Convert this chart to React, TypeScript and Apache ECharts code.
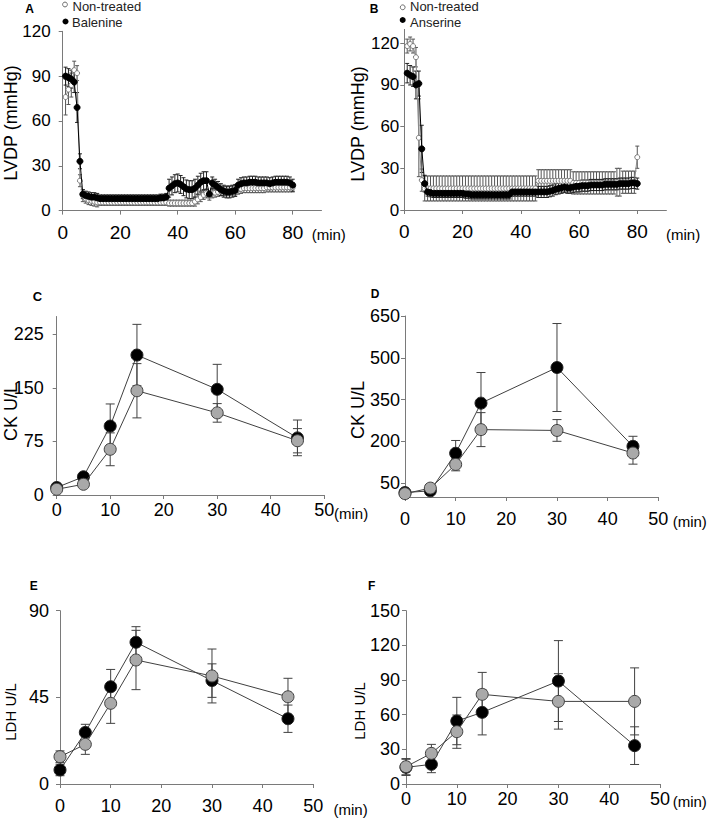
import React, { useEffect, useRef } from 'react';
import * as echarts from 'echarts';

// ---------- DATA ----------
// Panels A & B: LVDP sampled every minute (1..80 min)
const minutesAB = Array.from({ length: 80 }, (_, i) => i + 1);

const lvdpA_nonTreated = [
  76, 81, 84, 94, 92, 20, 10, 8, 7, 6.5,
  6, 5.5, 5.5, 5.5, 5.5, 5.5, 5.5, 5.5, 5.5, 5.5,
  5.5, 5.5, 5.5, 5.5, 5.5, 5.5, 5.5, 5.5, 5.5, 5.5,
  5.5, 5.5, 5.5, 5.5, 5.5, 5.5, 5, 5, 5, 5,
  5, 5, 5, 5, 5, 6, 7.5, 9, 10.5, 11.5,
  10, 11.5, 12, 12.5, 13, 13, 13, 13, 13.5, 13.5,
  14, 14.5, 15, 15, 15, 15, 15, 15, 15, 15,
  15.5, 15.5, 15.5, 15.5, 15.5, 15.5, 15.5, 15.5, 15.5, 15.5,
];
const lvdpA_nonTreatedErr = [
  12, 10, 8, 6, 5, 4, 4, 3, 3, 3,
  3, 3, 2, 2, 2, 2, 2, 2, 2, 2,
  2, 2, 2, 2, 2, 2, 2, 2, 2, 2,
  2, 2, 2, 2, 2, 2, 2, 2, 2, 2,
  2, 2, 2, 2, 2, 3, 3, 3, 3, 3,
  3, 3, 3, 3, 3, 3, 3, 3, 3, 3,
  3, 3, 3, 3, 3, 3, 3, 3, 3, 3,
  3, 3, 3, 3, 3, 3, 3, 3, 3, 3,
];
const lvdpA_balenine = [
  90, 89, 88, 86, 69, 33, 11, 10, 9.5, 9,
  9, 8.5, 8, 8, 8, 8, 8, 8, 8, 8,
  8, 8, 8, 8, 8, 8, 8, 8, 8, 8,
  8, 8, 8, 8.5, 8.5, 9, 15, 16.5, 18, 18.5,
  17.5, 16, 14.5, 14, 14, 15, 17, 19, 20, 20,
  11, 18.5, 17, 15.5, 14, 13, 12.5, 12.5, 13, 13.5,
  17, 18, 18.5, 18.5, 19, 19, 19, 18.5, 18.5, 18.5,
  18.5, 18, 18.5, 19, 19, 19, 19, 19, 18.5, 17,
];
const lvdpA_balenineErr = [
  6, 6, 6, 7, 10, 5, 3, 3, 3, 3,
  3, 3, 2.5, 2.5, 2.5, 2.5, 2.5, 2.5, 2.5, 2.5,
  2.5, 2.5, 2.5, 2.5, 2.5, 2.5, 2.5, 2.5, 2.5, 2.5,
  2.5, 2.5, 2.5, 2.5, 2.5, 2.5, 6, 6, 6, 6,
  6, 6, 6, 6, 6, 6, 6, 6, 6, 6,
  2, 4, 4, 4, 4, 4, 4, 4, 4, 4,
  4, 4, 4, 4, 4, 4, 4, 4, 4, 4,
  4, 4, 4, 4, 4, 4, 4, 4, 4, 4,
];

const lvdpB_nonTreated = [
  118, 119.5, 118, 110, 52, 21.5, 15.5, 15.5, 15.5, 15.5,
  15.5, 15.5, 15.5, 15.5, 15.5, 15.5, 15.5, 15.5, 15.5, 15.5,
  15.5, 15.5, 15.5, 15.5, 15.5, 15.5, 15.5, 15.5, 15.5, 15.5,
  15.5, 15.5, 15.5, 15.5, 15.5, 15.5, 15.5, 15.5, 15.5, 15.5,
  15.5, 15.5, 15.5, 15.5, 15.5, 21, 21, 21, 21, 21,
  21, 21, 21, 21, 21, 21, 21, 19.5, 19.5, 19.5,
  19.5, 19.5, 19.5, 19.5, 19.5, 19.5, 19.5, 19.5, 19.5, 19.5,
  19.5, 19.5, 20, 20, 20, 20, 20, 20, 20, 38,
];
const lvdpB_nonTreatedErr = [
  5, 5, 5, 7, 28, 8, 9, 9, 9, 9,
  9, 9, 9, 9, 9, 9, 9, 9, 9, 9,
  9, 9, 9, 9, 9, 9, 9, 9, 9, 9,
  9, 9, 9, 9, 9, 9, 9, 9, 9, 9,
  9, 9, 9, 9, 9, 8, 8, 8, 8, 8,
  8, 8, 8, 8, 8, 8, 8, 8, 8, 8,
  8, 8, 8, 8, 8, 8, 8, 8, 8, 8,
  8, 8, 10, 10, 8, 8, 8, 8, 8, 8,
];
const lvdpB_anserine = [
  98.5, 97, 96, 90, 91, 44, 19, 13, 12.5, 12,
  12, 12, 12, 12, 12, 12, 12, 12, 12, 12,
  11.5, 11.5, 11, 11, 11, 11, 11, 11, 11, 11,
  11, 11, 11, 11, 11, 11, 13, 13, 13, 13,
  13, 13, 13, 13, 13, 13, 13, 13, 13, 13.5,
  14, 15, 15.5, 16, 16.5, 16, 16, 16.5, 17, 17,
  17.5, 17.5, 17.5, 18, 18, 18, 18, 18, 18.5, 18.5,
  18.5, 18.5, 18.5, 19, 19, 19, 19, 19.5, 19.5, 19,
];
const lvdpB_anserineErr = [
  7, 7, 7, 10, 9, 17, 6, 3, 3, 3,
  3, 3, 3, 3, 3, 3, 3, 3, 3, 3,
  3, 3, 3, 3, 3, 3, 3, 3, 3, 3,
  3, 3, 3, 3, 3, 3, 3, 3, 3, 3,
  3, 3, 3, 3, 3, 4, 4, 4, 4, 4,
  4, 4, 4, 4, 4, 4, 4, 4, 4, 4,
  4, 4, 4, 4, 4, 4, 4, 4, 4, 4,
  4, 4, 4, 4, 4, 4, 4, 4, 4, 4,
];

// Panels C-F: sampling times (min)
const timesCF = [0, 5, 10, 15, 30, 45];

const ckC_nonTreated = [8, 15, 64, 146, 115, 76];
const ckC_nonTreatedErr = [3, 4, 23, 38, 13, 17];
const ckC_balenine = [10.5, 25.5, 96.5, 196, 148, 80];
const ckC_balenineErr = [4, 5, 31, 43, 35, 25];

const ckD_nonTreated = [12, 32, 117, 242, 239, 158];
const ckD_nonTreatedErr = [8, 10, 23, 61, 39, 40];
const ckD_anserine = [16, 22, 157, 337, 465, 182];
const ckD_anserineErr = [10, 8, 46, 110, 158, 36];

const ldhE_nonTreated = [14.2, 20.6, 41.9, 64.4, 56.1, 45.3];
const ldhE_nonTreatedErr = [3, 5.2, 10.4, 15.4, 14, 9.6];
const ldhE_balenine = [7.3, 26.8, 50.5, 73.6, 53.7, 33.9];
const ldhE_balenineErr = [3, 4.2, 9, 8.1, 8.7, 7.1];

const ldhF_nonTreated = [15, 26.5, 45.3, 77.6, 71.5, 71.5];
const ldhF_nonTreatedErr = [7, 7.8, 14.4, 19, 24, 29];
const ldhF_anserine = [14.4, 17, 54.5, 62, 89.1, 33.2];
const ldhF_anserineErr = [7, 7.2, 20.5, 19.5, 35, 16.3];

// Tick labels
const ticksX_AB = [0, 20, 40, 60, 80];
const ticksX_CF = [0, 10, 20, 30, 40, 50];
const ticksY_A = [0, 30, 60, 90, 120];
const ticksY_B = [0, 30, 60, 90, 120];
const ticksY_C = [0, 75, 150, 225];
const ticksY_D = [50, 200, 350, 500, 650];
const ticksY_E = [0, 45, 90];
const ticksY_F = [0, 30, 60, 90, 120, 150];

// ---------- LAYOUT / STYLE ----------
const FONT = '"Liberation Sans", Arial, Helvetica, sans-serif';
const AXIS_COLOR = '#7a7a7a';

type PanelCfg = {
  grid: { left: number; top: number; width: number; height: number };
  xMax: number; xTicks: number[]; xFs: number; xMargin: number;
  yMax: number; yTicks: number[]; yFs: number; yMargin: number;
};

const panels: PanelCfg[] = [
  { grid: { left: 62.7, top: 31.3, width: 258.8, height: 179.3 }, xMax: 90, xTicks: ticksX_AB, xFs: 19, xMargin: 12, yMax: 120, yTicks: ticksY_A, yFs: 17, yMargin: 12 },
  { grid: { left: 404.3, top: 29.4, width: 262.1, height: 180.6 }, xMax: 90, xTicks: ticksX_AB, xFs: 19, xMargin: 12, yMax: 130, yTicks: ticksY_B, yFs: 17, yMargin: 5 },
  { grid: { left: 56.7, top: 316.5, width: 267.5, height: 178.5 }, xMax: 50, xTicks: ticksX_CF, xFs: 18, xMargin: 6, yMax: 250, yTicks: ticksY_C, yFs: 18, yMargin: 13 },
  { grid: { left: 405, top: 316, width: 253.3, height: 181 }, xMax: 50, xTicks: ticksX_CF, xFs: 18, xMargin: 13, yMax: 650, yTicks: ticksY_D, yFs: 18, yMargin: 5 },
  { grid: { left: 60, top: 610.7, width: 253.3, height: 173.3 }, xMax: 50, xTicks: ticksX_CF, xFs: 18, xMargin: 13, yMax: 90, yTicks: ticksY_E, yFs: 18, yMargin: 11 },
  { grid: { left: 406, top: 610.7, width: 254, height: 173.3 }, xMax: 50, xTicks: ticksX_CF, xFs: 18, xMargin: 6, yMax: 150, yTicks: ticksY_F, yFs: 18, yMargin: 6 },
];

function lineSeries(idx: number, name: string, times: number[], vals: number[], o: any) {
  return {
    type: 'line',
    name,
    xAxisIndex: idx,
    yAxisIndex: idx,
    data: times.map((t, i) => [t, vals[i]]),
    symbol: 'circle',
    symbolSize: o.size,
    showSymbol: true,
    lineStyle: { color: o.line, width: 1 },
    itemStyle: { color: o.fill, borderColor: o.border, borderWidth: o.bw ?? 1, opacity: 1 },
    emphasis: { disabled: true },
    z: o.z,
    silent: true,
  };
}

function errSeries(idx: number, times: number[], vals: number[], errs: number[], color: string, cap: number, z: number) {
  return {
    type: 'custom',
    xAxisIndex: idx,
    yAxisIndex: idx,
    data: times.map((t, i) => [t, vals[i] - errs[i], vals[i] + errs[i]]),
    encode: { x: 0, y: [1, 2] },
    z,
    silent: true,
    clip: false,
    renderItem: (params: any, api: any) => {
      const x = api.value(0);
      const lo = api.coord([x, api.value(1)]);
      const hi = api.coord([x, api.value(2)]);
      const st = { stroke: color, lineWidth: 1 };
      return {
        type: 'group',
        children: [
          { type: 'line', shape: { x1: lo[0], y1: lo[1], x2: hi[0], y2: hi[1] }, style: st },
          { type: 'line', shape: { x1: hi[0] - cap, y1: hi[1], x2: hi[0] + cap, y2: hi[1] }, style: st },
          { type: 'line', shape: { x1: lo[0] - cap, y1: lo[1], x2: lo[0] + cap, y2: lo[1] }, style: st },
        ],
      };
    },
  };
}

function txt(text: string, x: number, y: number, size: number, opts: any = {}) {
  const align = opts.align || 'left';
  return {
    type: 'text',
    x,
    y,
    rotation: opts.rotation || 0,
    silent: true,
    style: {
      text,
      fill: opts.color || '#000',
      font: `${opts.bold ? 'bold ' : ''}${size}px ${FONT}`,
      textAlign: align,
      align,
      textVerticalAlign: 'middle',
      verticalAlign: 'middle',
    },
  };
}

export default function App() {
  const ref = useRef<HTMLDivElement>(null);
  useEffect(() => {
    if (!ref.current) return;
    const chart = echarts.init(ref.current, undefined, { renderer: 'svg' });

    const grid = panels.map((p) => ({ ...p.grid, containLabel: false }));
    const xAxis = panels.map((p, i) => ({
      type: 'value',
      gridIndex: i,
      min: 0,
      max: p.xMax,
      splitLine: { show: false },
      axisLine: { show: true, onZero: false, lineStyle: { color: AXIS_COLOR, width: 1 } },
      axisTick: { show: true, inside: false, length: 4, lineStyle: { color: AXIS_COLOR }, customValues: p.xTicks },
      axisLabel: { show: true, customValues: p.xTicks, color: '#000', fontFamily: FONT, fontSize: p.xFs, margin: p.xMargin },
    }));
    const yAxis = panels.map((p, i) => ({
      type: 'value',
      gridIndex: i,
      min: 0,
      max: p.yMax,
      splitLine: { show: false },
      axisLine: { show: true, onZero: false, lineStyle: { color: AXIS_COLOR, width: 1 } },
      axisTick: { show: true, inside: false, length: 4, lineStyle: { color: AXIS_COLOR }, customValues: p.yTicks },
      axisLabel: { show: true, customValues: p.yTicks, color: '#000', fontFamily: FONT, fontSize: p.yFs, margin: p.yMargin },
    }));

    const grayAB = { size: 5, line: '#8a8a8a', fill: '#ffffff', border: '#7a7a7a', z: 4 };
    const blackAB = { size: 6, line: '#000', fill: '#000', border: '#000', z: 5 };
    const grayCF = { size: 12, line: '#404040', fill: '#a9a9a9', border: '#404040', z: 6 };
    const blackCF = { size: 12, line: '#404040', fill: '#000', border: '#202020', z: 5 };

    const series: any[] = [
      // A
      errSeries(0, minutesAB, lvdpA_nonTreated, lvdpA_nonTreatedErr, '#555', 2, 2),
      errSeries(0, minutesAB, lvdpA_balenine, lvdpA_balenineErr, '#222', 2, 3),
      lineSeries(0, 'A Non-treated', minutesAB, lvdpA_nonTreated, grayAB),
      lineSeries(0, 'Balenine', minutesAB, lvdpA_balenine, blackAB),
      // B
      errSeries(1, minutesAB, lvdpB_nonTreated, lvdpB_nonTreatedErr, '#555', 2, 2),
      errSeries(1, minutesAB, lvdpB_anserine, lvdpB_anserineErr, '#222', 2, 3),
      lineSeries(1, 'B Non-treated', minutesAB, lvdpB_nonTreated, grayAB),
      lineSeries(1, 'Anserine', minutesAB, lvdpB_anserine, blackAB),
      // C
      errSeries(2, timesCF, ckC_balenine, ckC_balenineErr, '#404040', 4.5, 2),
      errSeries(2, timesCF, ckC_nonTreated, ckC_nonTreatedErr, '#404040', 4.5, 2),
      lineSeries(2, 'C Balenine', timesCF, ckC_balenine, blackCF),
      lineSeries(2, 'C Non-treated', timesCF, ckC_nonTreated, grayCF),
      // D
      errSeries(3, timesCF, ckD_anserine, ckD_anserineErr, '#404040', 4.5, 2),
      errSeries(3, timesCF, ckD_nonTreated, ckD_nonTreatedErr, '#404040', 4.5, 2),
      lineSeries(3, 'D Anserine', timesCF, ckD_anserine, blackCF),
      lineSeries(3, 'D Non-treated', timesCF, ckD_nonTreated, grayCF),
      // E
      errSeries(4, timesCF, ldhE_balenine, ldhE_balenineErr, '#404040', 4.5, 2),
      errSeries(4, timesCF, ldhE_nonTreated, ldhE_nonTreatedErr, '#404040', 4.5, 2),
      lineSeries(4, 'E Balenine', timesCF, ldhE_balenine, blackCF),
      lineSeries(4, 'E Non-treated', timesCF, ldhE_nonTreated, grayCF),
      // F
      errSeries(5, timesCF, ldhF_anserine, ldhF_anserineErr, '#404040', 4.5, 2),
      errSeries(5, timesCF, ldhF_nonTreated, ldhF_nonTreatedErr, '#404040', 4.5, 2),
      lineSeries(5, 'F Anserine', timesCF, ldhF_anserine, blackCF),
      lineSeries(5, 'F Non-treated', timesCF, ldhF_nonTreated, grayCF),
    ];

    const graphics: any[] = [
      // panel letters
      txt('A', 29.5, 9, 12, { bold: true, align: 'center' }),
      txt('B', 374, 8.5, 12, { bold: true, align: 'center' }),
      txt('C', 37.5, 296, 13, { bold: true, align: 'center' }),
      txt('D', 375, 294, 12, { bold: true, align: 'center' }),
      txt('E', 33.7, 586, 12, { bold: true, align: 'center' }),
      txt('F', 371.7, 586, 12, { bold: true, align: 'center' }),
      // legends
      { type: 'circle', silent: true, shape: { cx: 65, cy: 4.5, r: 2.4 }, style: { fill: '#fff', stroke: '#6a6a6a', lineWidth: 1 } },
      txt('Non-treated', 72.5, 6, 13, { color: '#222' }),
      { type: 'circle', silent: true, shape: { cx: 65.5, cy: 21.5, r: 3 }, style: { fill: '#000' } },
      txt('Balenine', 72, 22.5, 13, { color: '#222' }),
      { type: 'circle', silent: true, shape: { cx: 402.7, cy: 7.3, r: 2.4 }, style: { fill: '#fff', stroke: '#6a6a6a', lineWidth: 1 } },
      txt('Non-treated', 410, 6, 13, { color: '#222' }),
      { type: 'circle', silent: true, shape: { cx: 402.7, cy: 20, r: 3 }, style: { fill: '#000' } },
      txt('Anserine', 410, 22.5, 13, { color: '#222' }),
      // y-axis titles
      txt('LVDP (mmHg)', 10.5, 123, 18, { rotation: Math.PI / 2, align: 'center' }),
      txt('LVDP (mmHg)', 358, 124, 18, { rotation: Math.PI / 2, align: 'center' }),
      txt('CK U/L', 10.5, 412, 18, { rotation: Math.PI / 2, align: 'center' }),
      txt('CK U/L', 358, 410, 18, { rotation: Math.PI / 2, align: 'center' }),
      txt('LDH U/L', 10, 712, 15, { rotation: Math.PI / 2, align: 'center' }),
      txt('LDH U/L', 359, 711, 15, { rotation: Math.PI / 2, align: 'center' }),
      // x-axis unit
      txt('(min)', 311.7, 234, 15),
      txt('(min)', 666, 234, 15),
      txt('(min)', 334, 513, 15),
      txt('(min)', 672.7, 521.5, 15),
      txt('(min)', 333.5, 809, 15),
      txt('(min)', 672.7, 801.5, 15),
    ];

    chart.setOption({
      animation: false,
      backgroundColor: '#fff',
      grid,
      xAxis,
      yAxis,
      series,
      graphic: { elements: graphics },
    });
    return () => chart.dispose();
  }, []);
  return (
    <div
      ref={ref}
      style={{ position: 'absolute', left: 0, top: 0, width: 709, height: 824, background: '#fff' }}
    />
  );
}
